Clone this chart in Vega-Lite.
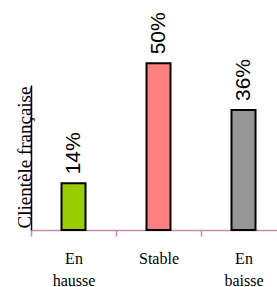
{
  "$schema": "https://vega.github.io/schema/vega-lite/v6.json",
  "autosize": {"type": "none"},
  "padding": {"left": 31, "top": 85, "right": 0, "bottom": 57},
  "width": 255,
  "height": 145,
  "background": "white",
  "config": {"view": {"stroke": null}},
  "data": {"values": [
    {"cat": "En hausse", "value": 14, "label": "14%", "color": "#99cc00"},
    {"cat": "Stable", "value": 50, "label": "50%", "color": "#ff8080"},
    {"cat": "En baisse", "value": 36, "label": "36%", "color": "#969696"}
  ]},
  "encoding": {
    "x": {"field": "cat", "type": "nominal", "sort": null,
      "scale": {"paddingInner": 0, "paddingOuter": 0},
      "axis": {"title": null, "labelAngle": 0, "tickBand": "extent",
        "domainColor": "#cc88aa", "domainWidth": 1.5, "tickColor": "#cc88aa", "tickWidth": 1.5, "tickSize": 6,
        "labelExpr": "split(datum.label, ' ')", "labelFont": "Liberation Serif", "labelFontSize": 16,
        "labelColor": "black", "labelPadding": 14, "labelLineHeight": 22, "labelBaseline": "top"}},
    "y": {"field": "value", "type": "quantitative",
      "scale": {"domain": [0, 43.5], "nice": false, "zero": true},
      "axis": {"title": "Clientèle française", "titleFont": "Liberation Serif", "titleFontSize": 19,
        "titleFontWeight": "normal", "titleColor": "black", "titleAngle": 270, "titleX": -1, "titleY": 72,
        "titleAlign": "center", "titleBaseline": "alphabetic",
        "labels": false, "ticks": false, "grid": false, "domainColor": "black", "domainWidth": 1.5}}
  },
  "layer": [
    {"mark": {"type": "bar", "size": 24, "stroke": "black", "strokeWidth": 2},
      "encoding": {"color": {"field": "color", "type": "nominal", "scale": null}}},
    {"mark": {"type": "text", "angle": 270, "align": "left", "baseline": "middle", "dx": 9,
        "font": "Liberation Sans", "fontSize": 21, "color": "black"},
      "encoding": {"text": {"field": "label"}}}
  ]
}
